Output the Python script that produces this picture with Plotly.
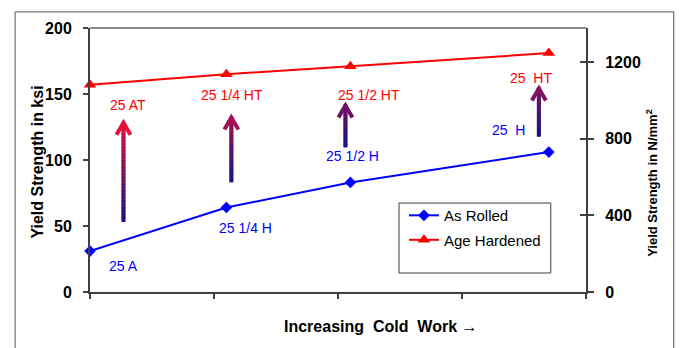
import plotly.graph_objects as go

# Yield strength of alloy 25 tempers versus cold work
cold_work = [0, 11, 21, 37]                 # % cold work
as_rolled = [31, 64, 83, 106]               # ksi
age_hardened = [157, 165, 171, 181]         # ksi
rolled_labels = ["25 A", "25 1/4 H", "25 1/2 H", "25\u00a0 H"]
hardened_labels = ["25 AT", "25 1/4 HT", "25 1/2 HT", "25\u00a0 HT"]

KSI_TO_MPA = 6.895
y_ticks = [0, 50, 100, 150, 200]
y2_ticks = [0, 400, 800, 1200]
x_ticks = [0, 10, 20, 30, 40]

# age-hardening arrows: x position, start and end strength (ksi)
arrow_x = [2.7, 11.4, 20.6, 36.2]
arrow_from = [53, 83, 109.5, 117.6]
arrow_to = [129, 133, 142, 155]

# label offsets from each point, in pixels
rolled_shift = [(33, -14.5), (19, -20.5), (2, 26), (-40, 21.6)]
hardened_shift = [(38, -20.5), (6, -21), (19, -29), (-18, -25)]

BLUE = "#0000ff"
RED = "#ff0000"
AXIS = "#404040"
FONT = "Liberation Sans, Arial, sans-serif"

fig = go.Figure()
fig.add_trace(go.Scatter(
    x=cold_work, y=as_rolled, name="As Rolled", mode="lines+markers",
    line=dict(color=BLUE, width=2), marker=dict(symbol="diamond", size=9, color=BLUE),
    cliponaxis=False, legendgroup="a"))
fig.add_trace(go.Scatter(
    x=cold_work, y=age_hardened, name="Age Hardened", mode="lines+markers",
    line=dict(color=RED, width=2), marker=dict(symbol="triangle-up", size=11, color=RED),
    cliponaxis=False, legendgroup="b"))

# the same series in N/mm² carries the right-hand axes (drawn transparent)
hardened_mpa = [v * KSI_TO_MPA for v in age_hardened]
for axis_name in ("y2", "y3"):
    fig.add_trace(go.Scatter(
        x=cold_work, y=hardened_mpa, yaxis=axis_name, mode="lines",
        line=dict(color="rgba(0,0,0,0)", width=0), showlegend=False, hoverinfo="skip"))

annotations = []
for x, y, t, (dx, dy) in zip(cold_work, as_rolled, rolled_labels, rolled_shift):
    annotations.append(dict(x=x, y=y, text=t, showarrow=False, xshift=dx, yshift=dy,
                            font=dict(color=BLUE, size=14)))
for x, y, t, (dx, dy) in zip(cold_work, age_hardened, hardened_labels, hardened_shift):
    annotations.append(dict(x=x, y=y, text=t, showarrow=False, xshift=dx, yshift=dy,
                            font=dict(color=RED, size=14)))

# axis titles
annotations.append(dict(xref="paper", yref="paper", x=-0.127, y=0.492, text="<b>Yield Strength in ksi</b>",
                        textangle=-90, showarrow=False, font=dict(size=16, color="black")))
annotations.append(dict(xref="paper", yref="paper", x=1.153, y=0.413,
                        text="<b>Yield Strength in N/mm<sup>2</sup></b>",
                        textangle=-90, showarrow=False, font=dict(size=13, color="black")))
annotations.append(dict(xref="paper", yref="paper", x=0.587, y=-0.17,
                        text="<b>Increasing\u00a0 Cold\u00a0 Work \u2192</b>",
                        showarrow=False, font=dict(size=16, color="black")))

# gradient arrows: navy at the tail fading to crimson over GRAD_SPAN ksi
C0 = (20, 20, 130)
C1 = (235, 15, 60)
GRAD_SPAN = 76.0
N_SEG = 30


def grad_color(frac):
    f = max(0.0, min(1.0, frac))
    r, g, b = (round(a + (c - a) * f) for a, c in zip(C0, C1))
    return f"rgb({r},{g},{b})"


shapes = []
for x, y0, y1 in zip(arrow_x, arrow_from, arrow_to):
    step = (y1 - y0) / N_SEG
    for i in range(N_SEG):
        ya = y0 + i * step
        yb = min(y1, ya + step * 1.6)   # overlap segments so the shaft is seamless
        shapes.append(dict(type="line", xref="x", yref="y", x0=x, x1=x, y0=ya, y1=yb,
                           line=dict(color=grad_color((ya + step / 2 - y0) / GRAD_SPAN), width=4)))
    tip = grad_color((y1 - y0) / GRAD_SPAN)
    shapes.append(dict(type="path", xref="x", yref="y", xsizemode="pixel", ysizemode="pixel",
                       xanchor=x, yanchor=y1, path="M -7,-13 L 0,-1 L 7,-13",
                       line=dict(color=tip, width=4)))

# plot frame top edge, legend box, outer border
shapes.append(dict(type="line", xref="paper", yref="paper", x0=0, x1=1, y0=1, y1=1,
                   line=dict(color="#8c8c8c", width=2)))
shapes.append(dict(type="rect", xref="paper", yref="paper", x0=0.623, x1=0.929, y0=0.072, y1=0.337,
                   line=dict(color=AXIS, width=1), fillcolor="rgba(0,0,0,0)"))
shapes.append(dict(type="rect", xref="paper", yref="paper", x0=-0.151, x1=1.177, y0=-0.3, y1=1.061,
                   line=dict(color="#555555", width=1), fillcolor="rgba(0,0,0,0)", layer="below"))

tickfont = dict(size=16, color="black", family=FONT, weight="bold")

fig.update_layout(
    width=680, height=348, autosize=False,
    template="none",
    paper_bgcolor="white", plot_bgcolor="white",
    font=dict(family=FONT, color="black"),
    margin=dict(l=90, r=94, t=28, b=56, pad=0),
    showlegend=True,
    legend=dict(x=0.633, y=0.352, xanchor="left", yanchor="top", bgcolor="rgba(0,0,0,0)",
                borderwidth=0, font=dict(size=15), itemwidth=30, tracegroupgap=2,
                traceorder="grouped"),
    xaxis=dict(range=[0, 40], tickvals=x_ticks, showticklabels=False, ticks="outside",
               ticklen=5, tickwidth=1.5, tickcolor=AXIS, showline=True, linecolor=AXIS,
               linewidth=2, showgrid=False, zeroline=False, fixedrange=True),
    yaxis=dict(range=[0, 200], tickvals=y_ticks, ticks="outside", ticklen=5, tickwidth=1.5,
               tickcolor=AXIS, showline=True, linecolor=AXIS, linewidth=2, showgrid=False,
               zeroline=False, tickfont=tickfont, ticklabelstandoff=8),
    yaxis2=dict(range=[0, 200 * KSI_TO_MPA], tickvals=y2_ticks, overlaying="y", side="right",
                anchor="x", ticks="outside", ticklen=6, tickwidth=1.5, tickcolor=AXIS,
                showline=True, linecolor=AXIS, linewidth=2, showgrid=False, zeroline=False,
                tickfont=tickfont, ticklabelstandoff=8),
    yaxis3=dict(range=[0, 200 * KSI_TO_MPA], tickvals=y2_ticks, overlaying="y", side="right",
                anchor="x", ticks="inside", ticklen=6, tickwidth=1.5, tickcolor=AXIS,
                showline=False, showticklabels=False, showgrid=False, zeroline=False),
    annotations=annotations,
    shapes=shapes,
)

fig.write_html("out.html")
